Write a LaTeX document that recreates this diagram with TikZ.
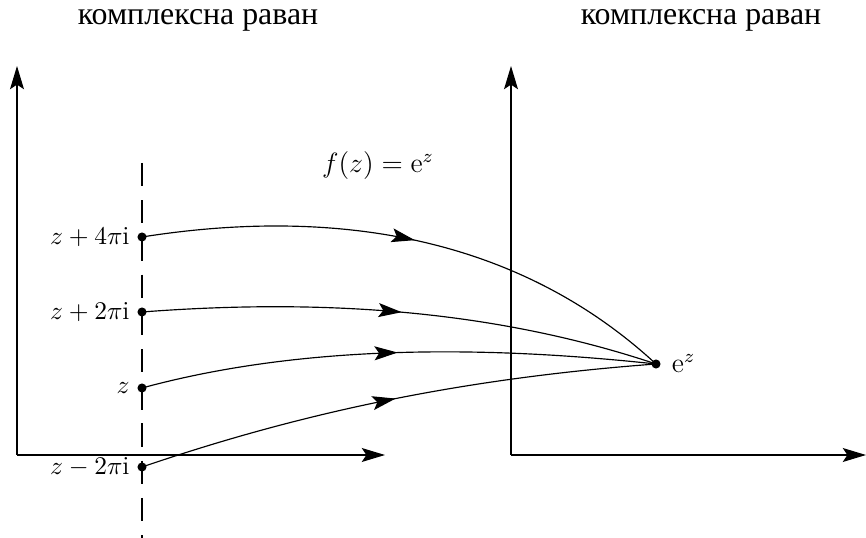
\documentclass[tikz,border=0pt]{standalone}
\usepackage{fontspec}
\newfontfamily\titlefont{Liberation Serif}
\usetikzlibrary{arrows.meta,decorations.markings}
\tikzset{
  axis/.style={line width=0.5pt,-{Stealth[length=10pt,width=6pt,inset=2pt]}},
  pt/.style={circle,fill,inner sep=0pt,minimum size=3.9pt},
  ptlabel/.style={font=\fontsize{11.2}{13}\selectfont},
  maparrow/.style={line width=0.5pt,postaction={decorate},
    decoration={markings,mark=at position 0.5 with {\arrow{Stealth[length=10pt,width=6pt,inset=2pt]}}}},
  title/.style={font=\titlefont\fontsize{13.7}{16}\selectfont}
}
\begin{document}
\begin{tikzpicture}[x=0.43pt,y=0.43pt]
\useasboundingbox (0,0) rectangle (866,538);
% titles
\node[title] (t1) at (198,518) {комплексна раван};
\node[title] (t2) at (701,518) {комплексна раван};
% left axes
\coordinate (o1) at (17,83);
\coordinate (y1) at (17,472);
\coordinate (x1) at (385,83);
\draw[axis] (o1) -- (y1);
\draw[axis] (o1) -- (x1);
% right axes
\coordinate (o2) at (511,83);
\coordinate (y2) at (511,472);
\coordinate (x2) at (866,83);
\draw[axis] (o2) -- (y2);
\draw[axis] (o2) -- (x2);
% dashed line
\coordinate (d1) at (142,375);
\coordinate (d2) at (142,0);
\draw[line width=0.5pt,dash pattern=on 10 off 6] (d1) -- (d2);
% points
\node[pt,label={[ptlabel,inner sep=3pt]left:$z+4\pi\mathrm{i}$}] (p4) at (142,301) {};
\node[pt,label={[ptlabel,inner sep=3pt]left:$z+2\pi\mathrm{i}$}] (p2) at (142,226) {};
\node[pt,label={[ptlabel,inner sep=3pt]left:$z$}] (p0) at (142,150) {};
\node[pt,label={[ptlabel,inner sep=3pt]left:$z-2\pi\mathrm{i}$}] (pm) at (142,71) {};
\node[pt,label={[font=\large,inner sep=4.5pt]right:$\mathrm{e}^z$}] (e) at (656,174) {};
% map label
\node[font=\large] (f) at (378,372) {$f(z)=\mathrm{e}^z$};
% curves
\draw[maparrow] (p4.center) .. controls (300,326) and (500,318) .. (e.center);
\draw[maparrow] (p2.center) .. controls (300,238) and (480,233) .. (e.center);
\draw[maparrow] (p0.center) .. controls (300,193) and (480,193) .. (e.center);
\draw[maparrow] (pm.center) .. controls (280,118) and (440,158) .. (e.center);
\end{tikzpicture}
\end{document}
